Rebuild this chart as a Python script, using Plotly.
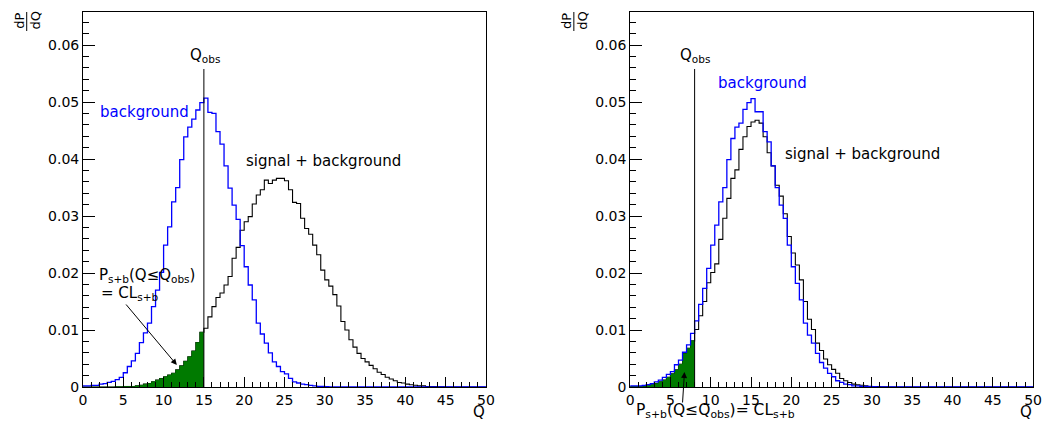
import plotly.graph_objects as go

# ---------------- data (bin width 0.5, bins start at Q = 0) ----------------
BIN_W = 0.5
N_BINS = 100
Q_OBS_LEFT = 15.0
Q_OBS_RIGHT = 8.0

bkg_left = [
    0.0002, 0.0002, 0.0003, 0.0003, 0.0005, 0.0006, 0.0008, 0.0010, 0.0013, 0.0017,
    0.0025, 0.0036, 0.0046, 0.0059, 0.0078, 0.0095, 0.0112, 0.0141, 0.0170, 0.0201,
    0.0249, 0.0281, 0.0325, 0.0350, 0.0399, 0.0439, 0.0456, 0.0470, 0.0486, 0.0499,
    0.0507, 0.0482, 0.0480, 0.0448, 0.0426, 0.0388, 0.0349, 0.0319, 0.0294, 0.0248,
    0.0211, 0.0179, 0.0153, 0.0112, 0.0093, 0.0077, 0.0060, 0.0044, 0.0036, 0.0027,
    0.0023, 0.0015, 0.0009, 0.0007, 0.0005, 0.0004, 0.0003, 0.0002, 0.0001, 0.0001,
    0.00005,
]
sb_left = [
    0.0, 0.0, 0.0, 0.0, 0.0, 0.0, 0.0, 0.0, 0.00005, 0.00005,
    0.0001, 0.0001, 0.0001, 0.0002, 0.0003, 0.0005, 0.0006, 0.0009, 0.0012, 0.0015,
    0.0018, 0.0021, 0.0024, 0.0030, 0.0037, 0.0045, 0.0053, 0.0063, 0.0078, 0.0096,
    0.0103, 0.0123, 0.0141, 0.0157, 0.0165, 0.0179, 0.0194, 0.0226, 0.0245, 0.0275,
    0.0290, 0.0299, 0.0321, 0.0337, 0.0346, 0.0363, 0.0357, 0.0363, 0.0366, 0.0366,
    0.0362, 0.0346, 0.0324, 0.0322, 0.0296, 0.0278, 0.0268, 0.0249, 0.0232, 0.0205,
    0.0188, 0.0177, 0.0162, 0.0142, 0.0115, 0.0100, 0.0083, 0.0070, 0.0059, 0.0050,
    0.0044, 0.0038, 0.0032, 0.0026, 0.0022, 0.0017, 0.0014, 0.0011, 0.0008, 0.0007,
    0.0005, 0.0004, 0.0003, 0.0002, 0.0002, 0.0001, 0.0001, 0.0001, 0.00005, 0.00005,
]
bkg_right = [
    0.0002, 0.0002, 0.0002, 0.0003, 0.0004, 0.0006, 0.0009, 0.0012, 0.0017, 0.0022,
    0.0027, 0.0039, 0.0047, 0.0061, 0.0074, 0.0094, 0.0116, 0.0145, 0.0173, 0.0208,
    0.0249, 0.0284, 0.0325, 0.0350, 0.0399, 0.0436, 0.0456, 0.0463, 0.0487, 0.0499,
    0.0506, 0.0483, 0.0483, 0.0448, 0.0430, 0.0388, 0.0350, 0.0319, 0.0296, 0.0249,
    0.0211, 0.0182, 0.0153, 0.0112, 0.0091, 0.0077, 0.0059, 0.0043, 0.0033, 0.0024,
    0.0018, 0.0011, 0.0008, 0.0005, 0.0004, 0.0002, 0.0002, 0.0001, 0.0001, 0.0001,
    0.00005,
]
sb_right = [
    0.0001, 0.0001, 0.0001, 0.0001, 0.0002, 0.0004, 0.0006, 0.0009, 0.0012, 0.0017,
    0.0023, 0.0030, 0.0040, 0.0059, 0.0068, 0.0081, 0.0101, 0.0125, 0.0150, 0.0183,
    0.0201, 0.0216, 0.0259, 0.0296, 0.0331, 0.0366, 0.0381, 0.0417, 0.0439, 0.0457,
    0.0465, 0.0468, 0.0463, 0.0439, 0.0411, 0.0388, 0.0354, 0.0335, 0.0304, 0.0264,
    0.0235, 0.0214, 0.0188, 0.0150, 0.0119, 0.0101, 0.0077, 0.0064, 0.0049, 0.0039,
    0.0031, 0.0024, 0.0015, 0.0011, 0.0008, 0.0005, 0.0004, 0.0003, 0.0002, 0.0001,
    0.0001, 0.0001, 0.00005, 0.00005,
]

x_ticks = [0, 5, 10, 15, 20, 25, 30, 35, 40, 45, 50]
y_ticks = [0, 0.01, 0.02, 0.03, 0.04, 0.05, 0.06]

# ---------------- helpers ----------------
W, H = 1049, 423
PLOT_TOP, PLOT_BOT = 12, 387


def pad(vals):
    return list(vals) + [0.0] * (N_BINS - len(vals))


def step_xy(vals, n=None):
    v = pad(vals) if n is None else list(vals[:n])
    xs = [i * BIN_W for i in range(len(v) + 1)]
    ys = v + [v[-1]]
    return xs, ys


def pxx(x):
    return x / W


def pxy(y):
    return (PLOT_BOT - y) / (PLOT_BOT - PLOT_TOP)


FONT = "DejaVu Sans"
fig = go.Figure()

panels = [
    dict(xa="x", ya="y", bkg=bkg_left, sb=sb_left, qobs=Q_OBS_LEFT, off=0),
    dict(xa="x2", ya="y2", bkg=bkg_right, sb=sb_right, qobs=Q_OBS_RIGHT, off=554),
]

for p in panels:
    xs, ys = step_xy(p["sb"])
    fig.add_trace(go.Scatter(x=xs, y=ys, mode="lines", line=dict(color="black", width=1.1, shape="hv"),
                             xaxis=p["xa"], yaxis=p["ya"], showlegend=False, hoverinfo="skip"))
    n_fill = int(round(p["qobs"] / BIN_W))
    fx, fy = step_xy(pad(p["sb"]), n_fill)
    fig.add_trace(go.Scatter(x=fx, y=fy, mode="lines", line=dict(color="#007a00", width=0.5, shape="hv"),
                             fill="tozeroy", fillcolor="#007a00",
                             xaxis=p["xa"], yaxis=p["ya"], showlegend=False, hoverinfo="skip"))
    xs, ys = step_xy(p["bkg"])
    fig.add_trace(go.Scatter(x=xs, y=ys, mode="lines", line=dict(color="#0000ff", width=1.3, shape="hv"),
                             xaxis=p["xa"], yaxis=p["ya"], showlegend=False, hoverinfo="skip"))
    # Q_obs vertical line
    fig.add_shape(type="line", xref=p["xa"], yref=p["ya"], x0=p["qobs"], x1=p["qobs"],
                  y0=0, y1=0.0558, line=dict(color="black", width=1))

axis_common = dict(showgrid=False, zeroline=False, showline=True, linecolor="black", linewidth=1,
                   mirror=True, ticks="inside", tickcolor="black",
                   tickfont=dict(family=FONT, size=14, color="black"))

fig.update_layout(
    width=W, height=H,
    margin=dict(l=0, r=0, t=PLOT_TOP, b=H - PLOT_BOT),
    plot_bgcolor="white", paper_bgcolor="white",
    xaxis=dict(domain=[80 / W, 488 / W], range=[0, 50], tickvals=x_ticks, ticklen=10,
               minor=dict(dtick=1, ticklen=5, ticks="inside", tickcolor="black"), anchor="y", **axis_common),
    yaxis=dict(domain=[0, 1], range=[0, 0.0658], tickvals=y_ticks, ticklen=12,
               minor=dict(dtick=0.002, ticklen=6, ticks="inside", tickcolor="black"), anchor="x", **axis_common),
    xaxis2=dict(domain=[634 / W, 1042 / W], range=[0, 50], tickvals=x_ticks, ticklen=10,
                minor=dict(dtick=1, ticklen=5, ticks="inside", tickcolor="black"), anchor="y2", **axis_common),
    yaxis2=dict(domain=[0, 1], range=[0, 0.0658], tickvals=y_ticks, ticklen=12,
                minor=dict(dtick=0.002, ticklen=6, ticks="inside", tickcolor="black"), anchor="x2", **axis_common),
)


def note(text, x, y, size=15, color="black", xanchor="center", angle=0):
    fig.add_annotation(text=text, x=pxx(x), y=pxy(y), xref="paper", yref="paper",
                       showarrow=False, xanchor=xanchor, yanchor="middle", textangle=angle,
                       font=dict(family=FONT, size=size, color=color))


for off in (0, 554):
    # y-axis title dP/dQ (rotated fraction)
    note("dP", 15 + off, 21, size=13, angle=-90)
    note("dQ", 31 + off, 21, size=13, angle=-90)
    fig.add_shape(type="line", xref="paper", yref="paper", x0=pxx(23 + off), x1=pxx(23 + off),
                  y0=pxy(12), y1=pxy(31), line=dict(color="black", width=1))
    # x-axis title
    note("Q", 489 + off, 412, size=15, xanchor="right")

# left panel texts
note("Q<sub>obs</sub>", 204, 55)
note("background", 142, 112, color="#0000ff")
note("signal + background", 324, 161)
note("P<sub>s+b</sub>(Q≤Q<sub>obs</sub>)", 94, 275, xanchor="left")
note("= CL<sub>s+b</sub>", 96, 293, xanchor="left")
fig.add_annotation(x=pxx(175), y=pxy(365), xref="paper", yref="paper", text="", showarrow=True,
                   ax=123 - 175, ay=303 - 365, axref="pixel", ayref="pixel",
                   arrowhead=2, arrowsize=1.2, arrowwidth=1, arrowcolor="black")

# right panel texts
note("Q<sub>obs</sub>", 700, 56)
note("background", 768, 83, color="#0000ff")
note("signal + background", 869, 154)
note("P<sub>s+b</sub>(Q≤Q<sub>obs</sub>)= CL<sub>s+b</sub>", 638, 411, size=15.5, xanchor="left")
fig.add_annotation(x=pxx(689), y=pxy(372), xref="paper", yref="paper", text="", showarrow=True,
                   ax=-2, ay=32, axref="pixel", ayref="pixel",
                   arrowhead=2, arrowsize=1.2, arrowwidth=1, arrowcolor="black")

fig.write_html("out.html")
